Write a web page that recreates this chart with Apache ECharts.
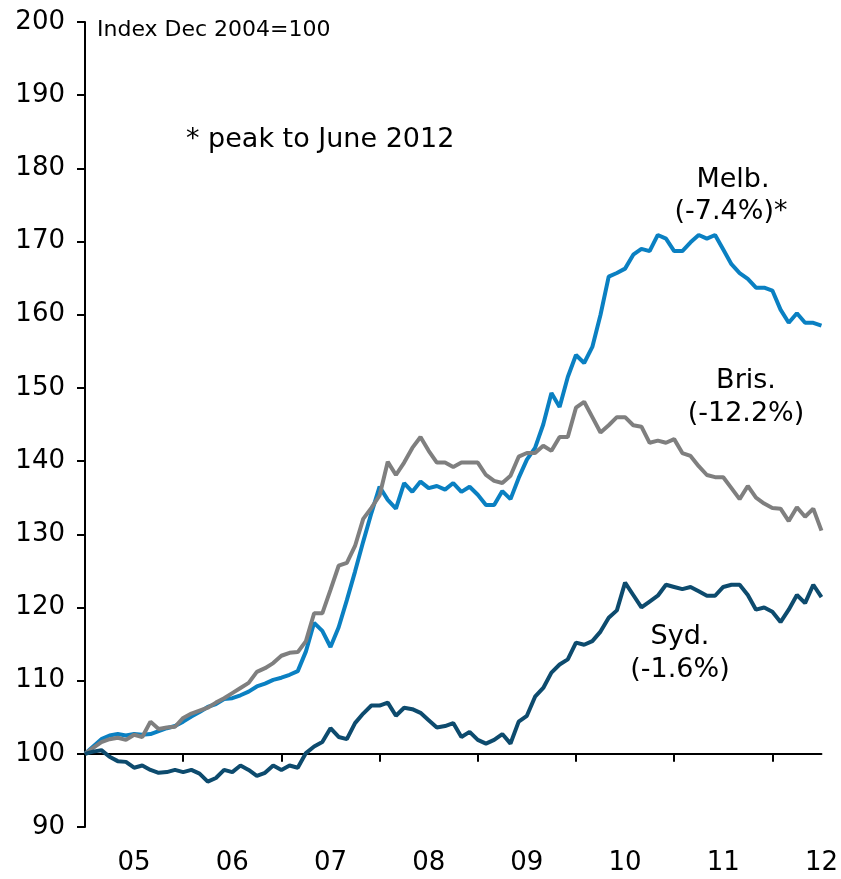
<!DOCTYPE html>
<html>
<head>
<meta charset="utf-8">
<script src="https://cdn.jsdelivr.net/npm/echarts@6/dist/echarts.min.js"></script>
<style>
  html, body { margin: 0; padding: 0; background: #fff; }
  #chart { width: 841px; height: 879px; }
</style>
</head>
<body>
<div id="chart"></div>
<script>
// monthly, Dec 2004 .. Jun 2012
var startYear = 2004, startMonth = 12, monthCount = 91;
var yearLabels = ['05', '06', '07', '08', '09', '10', '11', '12'];

var melb = [100, 101.0, 102.0, 102.5, 102.7, 102.5, 102.7, 102.6, 102.7, 103.1,
	103.5, 103.8, 104.4, 105.1, 105.7, 106.4, 106.8, 107.5, 107.6, 108.0,
	108.5, 109.2, 109.6, 110.1, 110.4, 110.8, 111.3, 114.0, 117.9, 116.8,
	114.6, 117.3, 121.0, 124.9, 129.0, 132.9, 136.5, 134.7, 133.5, 137.0,
	135.8, 137.2, 136.3, 136.6, 136.1, 137.0, 135.8, 136.5, 135.4, 134.0,
	134.0, 135.9, 134.8, 137.7, 140.2, 141.8, 145.0, 149.3, 147.4, 151.5,
	154.5, 153.4, 155.6, 160.0, 165.2, 165.7, 166.3, 168.2, 169.0, 168.7,
	170.9, 170.4, 168.7, 168.7, 169.9, 170.9, 170.4, 170.9, 168.9, 166.9,
	165.7, 164.9, 163.7, 163.7, 163.3, 160.7, 158.9, 160.2, 158.9, 158.9,
	158.5];

var bris = [100, 100.8, 101.6, 102.0, 102.2, 101.9, 102.6, 102.3, 104.4, 103.4,
	103.6, 103.7, 104.9, 105.5, 105.9, 106.3, 107.0, 107.6, 108.3, 109.0,
	109.7, 111.2, 111.7, 112.4, 113.4, 113.8, 113.9, 115.4, 119.2, 119.2,
	122.4, 125.7, 126.1, 128.4, 132.1, 133.6, 135.3, 139.9, 138.1, 139.8,
	141.8, 143.3, 141.4, 139.8, 139.8, 139.2, 139.8, 139.8, 139.8, 138.1,
	137.3, 137.0, 138.0, 140.6, 141.1, 141.1, 142.1, 141.4, 143.3, 143.3,
	147.3, 148.1, 146.0, 143.9, 144.9, 146.0, 146.0, 144.9, 144.7, 142.5,
	142.8, 142.5, 143.0, 141.1, 140.7, 139.3, 138.1, 137.8, 137.8, 136.3,
	134.8, 136.6, 135.0, 134.2, 133.6, 133.5, 131.8, 133.7, 132.4, 133.5,
	130.5];

var syd = [100, 100.3, 100.5, 99.6, 99.0, 98.9, 98.1, 98.4, 97.8, 97.4,
	97.5, 97.8, 97.5, 97.8, 97.3, 96.2, 96.7, 97.8, 97.5, 98.4,
	97.8, 97.0, 97.4, 98.4, 97.8, 98.4, 98.1, 100.1, 101.0, 101.6,
	103.5, 102.3, 102.0, 104.2, 105.5, 106.6, 106.6, 107.0, 105.2, 106.3,
	106.1, 105.6, 104.6, 103.6, 103.8, 104.2, 102.3, 103.0, 101.9, 101.4,
	101.9, 102.7, 101.4, 104.4, 105.2, 107.8, 109.0, 111.1, 112.2, 112.9,
	115.2, 114.9, 115.4, 116.7, 118.6, 119.6, 123.4, 121.7, 120.0, 120.8,
	121.6, 123.1, 122.8, 122.5, 122.8, 122.2, 121.6, 121.6, 122.8, 123.1,
	123.1, 121.7, 119.7, 120.0, 119.4, 118.0, 119.7, 121.7, 120.6, 123.1,
	121.4];

// category list of months
var months = [];
for (var i = 0; i < monthCount; i++) {
	var m = (startMonth - 1 + i) % 12 + 1;
	var y = startYear + Math.floor((startMonth - 1 + i) / 12);
	months.push(y + '-' + (m < 10 ? '0' + m : m));
}

var font = '"DejaVu Sans", Verdana, sans-serif';
var yMin = 90, yMax = 200, baseLine = 100;
var gridTop = 22, gridBottom = 52;
var plotH = 879 - gridTop - gridBottom;
// x axis drawn at index = 100
var baseOffset = -(baseLine - yMin) / (yMax - yMin) * plotH;

var chart = echarts.init(document.getElementById('chart'));

function lineSeries(name, data, color) {
	return {
		name: name,
		type: 'line',
		data: data,
		showSymbol: false,
		symbol: 'none',
		lineStyle: { color: color, width: 4 },
		z: 3
	};
}

function note(x, y, text, size, align) {
	return {
		type: 'text', x: x, y: y,
		style: { text: text, font: size + 'px ' + font, fill: '#000', align: align || 'center', verticalAlign: 'middle' }
	};
}

chart.setOption({
	animation: false,
	backgroundColor: '#fff',
	grid: { left: 85, right: 19, top: gridTop, bottom: gridBottom },
	xAxis: [{
		// labels only
		type: 'category',
		data: months,
		boundaryGap: false,
		position: 'bottom',
		axisLine: { show: false },
		axisTick: { show: false },
		splitLine: { show: false },
		axisLabel: {
			interval: function(idx) { return idx % 12 === 6; },
			formatter: function(v) { return v.slice(2, 4); },
			color: '#000',
			fontFamily: font,
			fontSize: 26,
			margin: 23
		}
	}, {
		// axis line + year ticks at 100
		type: 'category',
		data: months,
		boundaryGap: false,
		position: 'bottom',
		offset: baseOffset,
		axisLine: { show: true, onZero: false, lineStyle: { color: '#000', width: 2 } },
		axisTick: {
			show: true,
			length: 8,
			interval: function(idx) { return idx > 0 && idx % 12 === 0; },
			lineStyle: { color: '#000', width: 2 }
		},
		axisLabel: { show: false },
		splitLine: { show: false }
	}],
	yAxis: {
		type: 'value',
		min: yMin,
		max: yMax,
		interval: 10,
		axisLine: { show: true, lineStyle: { color: '#000', width: 2 } },
		axisTick: { show: true, length: 8, lineStyle: { color: '#000', width: 2 } },
		splitLine: { show: false },
		axisLabel: {
			color: '#000',
			fontFamily: font,
			fontSize: 26,
			margin: 20
		}
	},
	series: [
		lineSeries('Melb.', melb, '#0a80c2'),
		lineSeries('Bris.', bris, '#7f7f7f'),
		lineSeries('Syd.', syd, '#0d4b6e')
	],
	graphic: [
		note(97, 30, 'Index Dec 2004=100', 22, 'left'),
		note(186, 140, '* peak to June 2012', 27, 'left'),
		note(733, 180, 'Melb.', 27),
		note(731, 212, '(-7.4%)*', 27),
		note(746, 381, 'Bris.', 27),
		note(746, 414, '(-12.2%)', 27),
		note(680, 637, 'Syd.', 27),
		note(680, 670, '(-1.6%)', 27)
	]
});
</script>
</body>
</html>
